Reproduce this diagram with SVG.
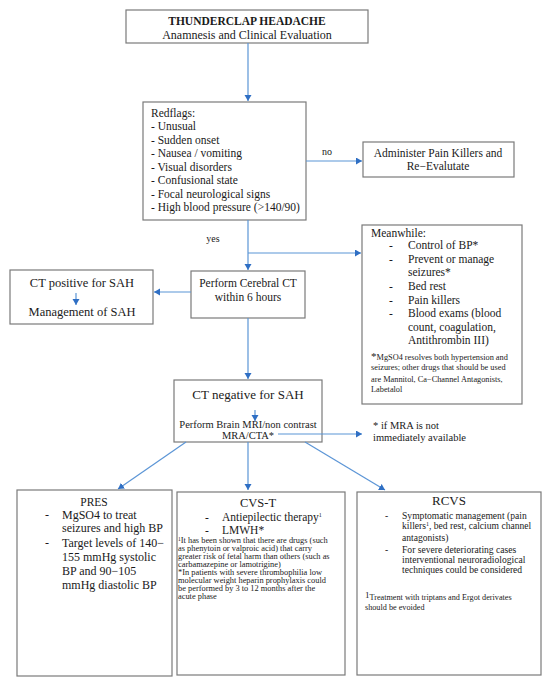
<svg xmlns="http://www.w3.org/2000/svg" width="550" height="687" viewBox="0 0 550 687" font-family="'Liberation Serif', 'Times New Roman', serif">
<defs>
<style>
.box{fill:#fff;stroke:#7a7a7a;stroke-width:1.2}
.t{font-family:'Liberation Serif','Times New Roman',serif;fill:#1a1a1a}
.c{text-anchor:middle}
.con{stroke:#5b95d6;stroke-width:1.2;fill:none}
</style>
<marker id="ah" markerUnits="userSpaceOnUse" markerWidth="8" markerHeight="8" refX="6" refY="3.5" orient="auto">
<path d="M0,0 L6,3.5 L0,7 Z" fill="#2f6fc4"/>
</marker>
</defs>
<rect width="550" height="687" fill="#fff"/>

<g id="title">
<rect class="box" x="126" y="10" width="242" height="33"/>
<text class="t c" x="247" y="25" font-size="11.5" font-weight="bold">THUNDERCLAP HEADACHE</text>
<text class="t c" x="247" y="39" font-size="12">Anamnesis and Clinical Evaluation</text>
</g>

<g id="redflags">
<rect class="box" x="143" y="102" width="163" height="118"/>
<g class="t" font-size="11.5">
<text x="151" y="117">Redflags:</text>
<text x="151" y="130">- Unusual</text>
<text x="151" y="144">- Sudden onset</text>
<text x="151" y="157">- Nausea / vomiting</text>
<text x="151" y="171">- Visual disorders</text>
<text x="151" y="184">- Confusional state</text>
<text x="151" y="198">- Focal neurological signs</text>
<text x="151" y="211">- High blood pressure (&gt;140/90)</text>
</g>
</g>

<g id="administer">
<rect class="box" x="363" y="142" width="151" height="35"/>
<text class="t c" x="438" y="157" font-size="11.5">Administer Pain Killers and</text>
<text class="t c" x="438" y="170" font-size="11.5">Re−Evalutate</text>
</g>

<g id="meanwhile">
<rect class="box" x="362" y="225" width="160" height="179"/>
<g class="t" font-size="11.5">
<text x="371" y="237">Meanwhile:</text>
<text x="389" y="249">-</text><text x="408" y="249">Control of BP*</text>
<text x="389" y="263">-</text><text x="408" y="263">Prevent or manage</text>
<text x="408" y="276">seizures*</text>
<text x="389" y="290">-</text><text x="408" y="290">Bed rest</text>
<text x="389" y="304">-</text><text x="408" y="304">Pain killers</text>
<text x="389" y="317">-</text><text x="408" y="317">Blood exams (blood</text>
<text x="408" y="331">count, coagulation,</text>
<text x="408" y="344">Antithrombin III)</text>
</g>
<g class="t" font-size="8.3">
<text x="371" y="360"><tspan font-size="11">*</tspan>MgSO4 resolves both hypertension and</text>
<text x="371" y="370">seizures; other drugs that should be used</text>
<text x="371" y="382">are Mannitol, Ca−Channel Antagonists,</text>
<text x="371" y="392">Labetalol</text>
</g>
</g>

<g id="ct-positive">
<rect class="box" x="10" y="270" width="143" height="54"/>
<text class="t c" x="82" y="287" font-size="12.5">CT positive for SAH</text>
<text class="t c" x="82" y="316" font-size="12.5">Management of SAH</text>
</g>

<g id="cerebral-ct">
<rect class="box" x="191" y="271" width="114" height="47"/>
<text class="t c" x="248" y="287" font-size="11.5">Perform Cerebral CT</text>
<text class="t c" x="248" y="301" font-size="11.5">within 6 hours</text>
</g>

<g id="ct-negative">
<rect class="box" x="174" y="380" width="148" height="62"/>
<text class="t c" x="248" y="399" font-size="13">CT negative for SAH</text>
<text class="t c" x="248" y="428" font-size="10.5">Perform Brain MRI/non contrast</text>
<text class="t c" x="248" y="439" font-size="10.5">MRA/CTA*</text>
</g>

<g id="mra-note">
<text class="t" x="373" y="429" font-size="10.5">* if MRA is not</text>
<text class="t" x="373" y="441" font-size="10.5">immediately available</text>
</g>

<g id="pres">
<rect class="box" x="17" y="490" width="155" height="186"/>
<g class="t" font-size="12">
<text class="c" x="94" y="506" font-size="11.5">PRES</text>
<text x="45" y="519">-</text><text x="62" y="519">MgSO4 to treat</text>
<text x="62" y="532">seizures and high BP</text>
<text x="45" y="547">-</text><text x="62" y="547">Target levels of 140−</text>
<text x="62" y="561">155 mmHg systolic</text>
<text x="62" y="575">BP and 90−105</text>
<text x="62" y="589">mmHg diastolic BP</text>
</g>
</g>

<g id="cvst">
<rect class="box" x="177" y="492" width="168" height="183"/>
<g class="t">
<text class="c" x="258" y="507" font-size="12.5">CVS-T</text>
<text x="205" y="521" font-size="11.5">-</text><text x="222" y="521" font-size="11.5">Antiepilectic therapy<tspan font-size="6" dy="-4">1</tspan></text>
<text x="205" y="534" font-size="11.5">-</text><text x="222" y="534" font-size="11.5">LMWH*</text>
</g>
<g class="t" font-size="8.4">
<text x="178" y="543"><tspan font-size="5.5" dy="-2.5">1</tspan><tspan dy="2.5">It has been shown that there are drugs (such</tspan></text>
<text x="178" y="551">as phenytoin or valproic acid) that carry</text>
<text x="178" y="559">greater risk of fetal harm than others (such as</text>
<text x="178" y="567">carbamazepine or lamotrigine)</text>
<text x="178" y="575">*In patients with severe thrombophilia low</text>
<text x="178" y="583">molecular  weight heparin prophylaxis could</text>
<text x="178" y="591">be performed by 3 to 12 months after the</text>
<text x="178" y="599">acute phase</text>
</g>
</g>

<g id="rcvs">
<rect class="box" x="357" y="492" width="184" height="183"/>
<g class="t">
<text class="c" x="449" y="505" font-size="13">RCVS</text>
</g>
<g class="t" font-size="9.6">
<text x="385" y="519">-</text><text x="402" y="519">Symptomatic management (pain</text>
<text x="402" y="529">killers<tspan font-size="6" dy="-3">1</tspan><tspan dy="3">, bed rest, calcium channel</tspan></text>
<text x="402" y="541">antagonists)</text>
<text x="385" y="553">-</text><text x="402" y="553">For severe deteriorating cases</text>
<text x="402" y="563">interventional neuroradiological</text>
<text x="402" y="573">techniques could be considered</text>
</g>
<g class="t" font-size="8.2">
<text x="365" y="600"><tspan font-size="9" dy="-2">1</tspan><tspan dy="2">Treatment with triptans and Ergot derivates</tspan></text>
<text x="365" y="610">should be evoided</text>
</g>
</g>

<g id="connectors">
<line class="con" x1="248" y1="43" x2="248" y2="101" marker-end="url(#ah)"/>
<line class="con" x1="306" y1="161" x2="362" y2="161" marker-end="url(#ah)"/>
<line class="con" x1="248" y1="220" x2="248" y2="270" marker-end="url(#ah)"/>
<line class="con" x1="248" y1="253" x2="361" y2="253" marker-end="url(#ah)"/>
<line class="con" x1="191" y1="292" x2="154" y2="292" marker-end="url(#ah)"/>
<line class="con" x1="76" y1="293" x2="76" y2="305" marker-end="url(#ah)"/>
<line class="con" x1="248" y1="318" x2="248" y2="379" marker-end="url(#ah)"/>
<line class="con" x1="255" y1="410" x2="255" y2="421" marker-end="url(#ah)"/>
<line class="con" x1="278" y1="434" x2="362" y2="434" marker-end="url(#ah)"/>
<line class="con" x1="186" y1="442" x2="118" y2="489" marker-end="url(#ah)"/>
<line class="con" x1="248" y1="442" x2="248" y2="490" marker-end="url(#ah)"/>
<line class="con" x1="305" y1="442" x2="385" y2="490" marker-end="url(#ah)"/>
<text class="t" x="327" y="155" font-size="10" text-anchor="middle">no</text>
<text class="t" x="213" y="242" font-size="10" text-anchor="middle">yes</text>
</g>
</svg>
